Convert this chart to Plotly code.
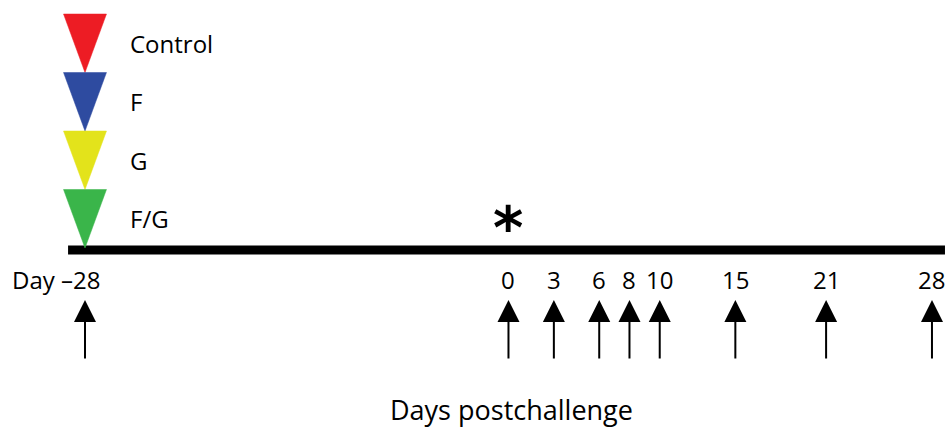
import plotly.graph_objects as go

# ---- data ----
groups = ["Control", "F", "G", "F/G"]          # top to bottom
group_colors = ["#ED1C24", "#2E4BA0", "#E3E31B", "#3AB54A"]
vaccination_day = -28
challenge_day = 0
sample_days = [-28, 0, 3, 6, 8, 10, 15, 21, 28]
sample_labels = ["Day \u201328", "0", "3", "6", "8", "10", "15", "21", "28"]
axis_title = "Days postchallenge"

# ---- style ----
FONT = "Open Sans"
TRI_H = 58.5      # y units (≈ px)
TRI_HW = 1.42     # half width in days
APEX_OFF = 2
LABEL_DX = 2.85

fig = go.Figure()

# timeline
fig.add_trace(go.Scatter(x=[min(sample_days) - 1.12, max(sample_days) + 0.86], y=[0, 0],
                         mode="lines", line=dict(color="black", width=9),
                         hoverinfo="skip", showlegend=False))

# stacked triangles
n = len(groups)
for i, (g, c) in enumerate(zip(groups, group_colors)):
    k = n - 1 - i
    apex = k * TRI_H + APEX_OFF
    top = apex + TRI_H
    d = vaccination_day
    fig.add_trace(go.Scatter(x=[d - TRI_HW, d + TRI_HW, d, d - TRI_HW],
                             y=[top, top, apex, top], mode="lines", fill="toself",
                             fillcolor=c, line=dict(color=c, width=0.5),
                             hoverinfo="skip", showlegend=False))
    fig.add_annotation(x=d + LABEL_DX, y=apex + TRI_H / 2, text=g, showarrow=False,
                       xanchor="left", yanchor="middle",
                       font=dict(family=FONT, size=24, color="black"))

# asterisk at challenge
fig.add_annotation(x=challenge_day, y=22, text="<b>*</b>", showarrow=False,
                   xanchor="center", yanchor="middle",
                   font=dict(family="DejaVu Sans", size=58, color="black"))

# day labels and arrows
for d, lab in zip(sample_days, sample_labels):
    if lab.startswith("Day"):
        fig.add_annotation(x=d, y=-29, text=lab, showarrow=False, xanchor="right",
                           xshift=17, yanchor="middle",
                           font=dict(family=FONT, size=24, color="black"))
    else:
        fig.add_annotation(x=d, y=-29, text=lab, showarrow=False, xanchor="center",
                           yanchor="middle", font=dict(family=FONT, size=24, color="black"))
    fig.add_annotation(x=d, y=-50, ax=0, ay=60, text="", showarrow=True,
                       arrowhead=2, arrowsize=2.2, arrowwidth=2, arrowcolor="black",
                       standoff=0)

fig.add_annotation(x=511 / 948, xref="paper", y=-159, text=axis_title, showarrow=False,
                   xanchor="center", yanchor="middle",
                   font=dict(family=FONT, size=27, color="black"))

fig.update_layout(width=948, height=428, margin=dict(l=0, r=0, t=0, b=0),
                  plot_bgcolor="white", paper_bgcolor="white",
                  xaxis=dict(range=[-33.62, 29.06], visible=False, fixedrange=True),
                  yaxis=dict(range=[-178, 250], visible=False, fixedrange=True))

fig.write_html("out.html", config={"displayModeBar": False},
               post_script="document.body.style.margin='0';document.body.style.overflow='hidden';")
